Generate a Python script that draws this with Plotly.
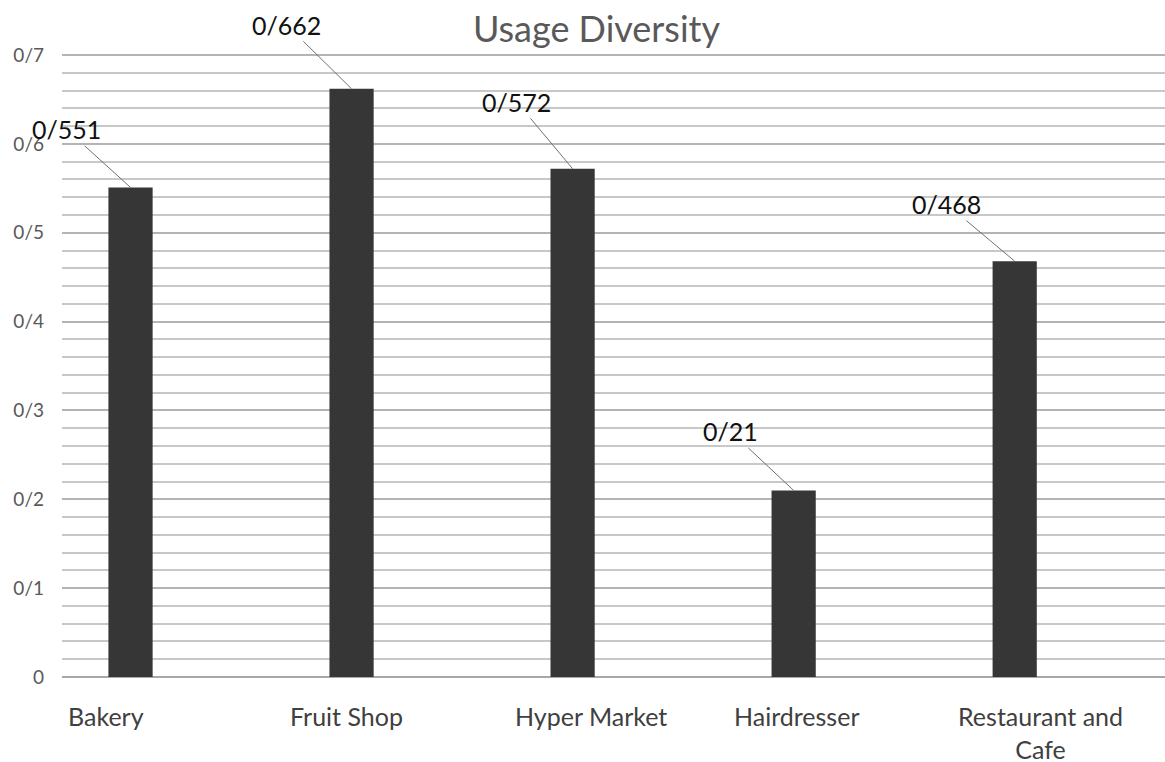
import plotly.graph_objects as go

categories = ["Bakery", "Fruit Shop", "Hyper Market", "Hairdresser", "Restaurant and<br>Cafe"]
values = [0.551, 0.662, 0.572, 0.21, 0.468]
value_labels = ["0/551", "0/662", "0/572", "0/21", "0/468"]
y_tick_vals = [0, 0.1, 0.2, 0.3, 0.4, 0.5, 0.6, 0.7]
y_tick_text = ["0", "0/1", "0/2", "0/3", "0/4", "0/5", "0/6", "0/7"]

# styling: label offsets (pixels)
label_offsets = [(-64, -58), (-65, -64), (-56, -67), (-63, -59), (-68, -57)]
xlabel_shifts = [-25, -5, 18, 3, 26]

FONT = "Lato"

fig = go.Figure()
fig.add_trace(go.Bar(
    x=categories, y=values,
    marker=dict(color="#363636", line=dict(width=0)),
    width=0.2,
    hoverinfo="skip",
))

for c, v, t, (ax, ay) in zip(categories, values, value_labels, label_offsets):
    fig.add_annotation(
        x=c, y=v, text=t, showarrow=True, arrowhead=0, arrowwidth=1,
        arrowcolor="#707070", ax=ax, ay=ay, axref="pixel", ayref="pixel",
        font=dict(family=FONT, size=25, color="#111111"),
    )

for c, s in zip(categories, xlabel_shifts):
    fig.add_annotation(
        x=c, y=0, yref="paper", text=c, showarrow=False,
        xanchor="center", yanchor="top", xshift=s, yshift=-22,
        font=dict(family=FONT, size=25, color="#404040"),
    )

fig.update_layout(
    width=1165, height=762,
    margin=dict(l=62, r=0, t=52, b=85),
    paper_bgcolor="white", plot_bgcolor="white",
    showlegend=False,
    title=dict(text="Usage Diversity", x=0.512, xanchor="center", y=0.978, yanchor="top",
               font=dict(family=FONT, size=36, color="#595959")),
)
fig.update_xaxes(
    showticklabels=False,
    showgrid=False, showline=False, ticks="",
    range=[-0.31, 4.68],
)
fig.update_yaxes(
    range=[0, 0.7034], tickvals=y_tick_vals, ticktext=y_tick_text,
    tickfont=dict(family=FONT, size=19, color="#595959"),
    showgrid=True, gridcolor="#b4b4b4", gridwidth=1.5,
    minor=dict(dtick=0.02, showgrid=True, gridcolor="#c8c8c8", gridwidth=1.5),
    zeroline=True, zerolinecolor="#a8a8a8", zerolinewidth=1.5,
    ticks="", ticklabelstandoff=17, showline=False,
)

fig.write_html("out.html")
